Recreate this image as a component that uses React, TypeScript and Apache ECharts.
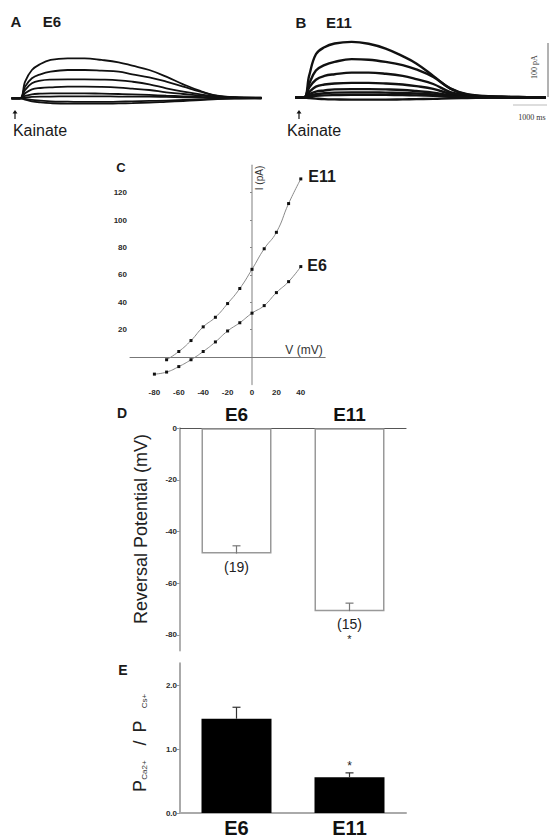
import React, { useEffect, useRef } from 'react';
import * as echarts from 'echarts';

const FONT = '"Liberation Sans", Arial, Helvetica, sans-serif';
const SERIF = '"Liberation Serif", "Times New Roman", serif';

// ---- Panels A/B: current traces (time in s after kainate, current in pA)
const traceTimes = [-0.25, 0, 0.15, 0.35, 0.6, 0.9, 1.4, 1.9, 2.4, 2.9, 3.3, 3.8, 4.3, 4.8, 5.3, 5.8, 6.3, 7.1];
const e6Traces = [
  [0, 0, 30.8, 52.4, 63.5, 71, 74, 74, 71, 66.6, 60.5, 52.4, 40.1, 25.9, 13.6, 4.9, 1.9, 1.2],
  [0, 0, 21.6, 37, 44.4, 49.4, 52.4, 52.4, 51.2, 49.4, 44.4, 38.9, 30.8, 21.6, 12.3, 4.3, 1.9, 1.2],
  [0, 0, 15.4, 27.8, 32.7, 34.6, 35.2, 35.2, 34.6, 33.3, 30.8, 25.9, 18.5, 12.3, 7.4, 3.1, 1.2, 0.6],
  [0, 0, 9.3, 16.7, 19.1, 20.4, 21.6, 21.6, 21, 19.7, 17.9, 15.4, 11.1, 8, 4.9, 2.5, 1.2, 0.6],
  [0, 0, 4.3, 7.4, 8.6, 9.3, 9.3, 9.3, 8.6, 8, 7.4, 6.2, 4.9, 3.7, 2.5, 1.2, 0.6, 0.6],
  [0, 0, 1.2, 2.5, 3.1, 3.1, 3.7, 3.7, 3.7, 3.1, 3.1, 3.1, 2.5, 1.9, 1.2, 0.6, 0.6, 0],
  [0, 0, -1.2, -3.1, -4.3, -5.6, -6.2, -6.8, -6.8, -6.2, -5.6, -4.9, -4.3, -3.1, -1.9, -0.6, 0, 0],
  [0, 0, -2.5, -5.5, -7.5, -9, -10, -10, -10, -9.5, -9, -8, -6.5, -5, -3.5, -1.5, -0.5, 0],
];
const e11Traces = [
  [0, 0, 40, 80, 93, 100, 103, 99.5, 90.5, 76.5, 63, 40, 16.5, 5, 2.5, 1.5, 1, 0],
  [0, 0, 25, 50, 60, 66, 71, 70, 66, 60, 52, 38, 17, 6, 3, 1.5, 1, 0],
  [0, 0, 18, 33, 40, 43, 46, 46, 44, 40, 34, 25, 10, 4, 2, 1, 0.5, 0],
  [0, 0, 10, 20, 24, 26, 27, 27, 26, 24, 21, 16, 7, 3, 1.5, 1, 0.5, 0],
  [0, 0, 6, 11, 13, 15, 15.5, 15.5, 15, 14, 12, 9, 4, 2, 1, 0.5, 0, 0],
  [0, 0, 3, 6, 8, 9, 9.5, 9.5, 9, 8.5, 7.5, 5.5, 2.5, 1, 0.5, 0, 0, 0],
  [0, 0, 1.5, 3, 4, 4.5, 5, 5, 4.8, 4.5, 4, 3, 1.5, 0.5, 0, 0, 0, 0],
  [0, 0, -1, -2, -3, -3.5, -4, -4, -4, -3.5, -3, -2.5, -1.5, -1, -0.5, 0, 0, 0],
];

// ---- Panel C: I-V relations
const ivE11Voltages = [-70, -60, -50, -40, -30, -20, -10, 0, 10, 20, 30, 40];
const ivE11Currents = [-2, 4, 12, 22, 29, 39, 50, 64, 79, 91, 112, 130];
const ivE6Voltages = [-80, -70, -60, -50, -40, -30, -20, -10, 0, 10, 20, 30, 40];
const ivE6Currents = [-12.5, -11, -7, -2, 4, 11, 19, 25, 32, 37.5, 47, 55, 66];
const ivXTicks = [-80, -60, -40, -20, 0, 20, 40];
const ivYTicks = [20, 40, 60, 80, 100, 120];

// ---- Panels D/E: bar charts
const groups = ['E6', 'E11'];
const reversalMeans = [-48.5, -70.8];
const reversalSem = [3.0, 3.1];
const reversalN = ['(19)', '(15)'];
const reversalSig = ['', '*'];
const revTicks = [-80, -60, -40, -20, 0];
const permRatio = [1.48, 0.56];
const permSem = [0.18, 0.07];
const permSig = ['', '*'];
const permTicks = [0, 1, 2];

function txt(text: string, x: number, y: number, size: number, opts: any = {}) {
  return {
    type: 'text',
    x,
    y,
    rotation: opts.rotation || 0,
    z: 50,
    style: {
      text,
      fill: opts.color || '#1a1a1a',
      font: `${opts.weight || 'normal'} ${size}px ${opts.family || FONT}`,
      align: 'center',
      verticalAlign: 'middle',
      textAlign: 'center',
      textVerticalAlign: 'middle',
    },
  };
}

function arrow(x: number, yTop: number, yBot: number) {
  return [
    { type: 'line', shape: { x1: x, y1: yBot, x2: x, y2: yTop + 2 }, style: { stroke: '#111', lineWidth: 1.2 } },
    { type: 'polygon', shape: { points: [[x - 2.5, yTop + 3.5], [x + 2.5, yTop + 3.5], [x, yTop]] }, style: { fill: '#111' } },
  ];
}

export default function App() {
  const ref = useRef<HTMLDivElement>(null);
  useEffect(() => {
    if (!ref.current) return;
    const chart = echarts.init(ref.current, undefined, { renderer: 'svg' });

    const traceSeries = (traces: number[][], idx: number, width: number) =>
      traces.map((vals) => ({
        type: 'line',
        xAxisIndex: idx,
        yAxisIndex: idx,
        data: traceTimes.map((t, i) => [t, vals[i]]),
        smooth: 0.4,
        symbol: 'none',
        silent: true,
        lineStyle: { color: '#111', width },
      }));

    const errRender = (means: number[], sems: number[], kind: 'D' | 'E') => (params: any, api: any) => {
      const i = params.dataIndex;
      const p0 = api.coord([i, means[i]]);
      const p1 = api.coord([i, means[i] + sems[i]]);
      const stroke = kind === 'D' ? '#777' : '#333';
      const children: any[] = [
        { type: 'line', shape: { x1: p0[0], y1: p0[1], x2: p1[0], y2: p1[1] }, style: { stroke, lineWidth: 1.2 } },
        { type: 'line', shape: { x1: p1[0] - 4, y1: p1[1], x2: p1[0] + 4, y2: p1[1] }, style: { stroke, lineWidth: 1.2 } },
      ];
      if (kind === 'D') {
        children.push({
          type: 'text', x: p0[0], y: p0[1] + 13,
          style: { text: reversalN[i], fill: '#222', font: `14px ${FONT}`, align: 'center', verticalAlign: 'middle' },
        });
        if (reversalSig[i]) {
          children.push({
            type: 'text', x: p0[0], y: p0[1] + 28,
            style: { text: reversalSig[i], fill: '#222', font: `11px ${FONT}`, align: 'center', verticalAlign: 'middle' },
          });
        }
      } else if (permSig[i]) {
        children.push({
          type: 'text', x: p1[0], y: p1[1] - 7,
          style: { text: permSig[i], fill: '#222', font: `12px ${FONT}`, align: 'center', verticalAlign: 'middle' },
        });
      }
      return { type: 'group', children };
    };

    const axisLbl = { fontSize: 8, fontWeight: 'bold', color: '#2a2a2a', fontFamily: FONT };

    const option: any = {
      animation: false,
      backgroundColor: '#ffffff',
      grid: [
        { left: 11.5, top: 44.3, width: 250, height: 64.8 },
        { left: 295.5, top: 32.7, width: 250, height: 75.6 },
        { left: 130, top: 165.2, width: 195.2, height: 219.2 },
        { left: 180, top: 428.3, width: 226, height: 222.1 },
        { left: 180, top: 663.3, width: 226, height: 153.4 },
      ],
      xAxis: [
        { gridIndex: 0, type: 'value', min: -0.25, max: 7.1, show: false },
        { gridIndex: 1, type: 'value', min: -0.25, max: 7.1, show: false },
        {
          gridIndex: 2, type: 'value', min: -100, max: 60, splitLine: { show: false },
          axisLine: { onZero: true, lineStyle: { color: '#777', width: 1 } },
          axisTick: { show: false },
          axisLabel: { ...axisLbl, margin: 4, customValues: ivXTicks },
        },
        {
          gridIndex: 3, type: 'category', data: groups, position: 'top',
          axisLine: { onZero: true, lineStyle: { color: '#555', width: 1.2 } },
          axisTick: { show: false },
          axisLabel: { fontSize: 19, fontWeight: 'bold', color: '#111', fontFamily: FONT, margin: 4 },
        },
        {
          gridIndex: 4, type: 'category', data: groups, position: 'bottom',
          axisLine: { lineStyle: { color: '#aaa', width: 2 } },
          axisTick: { show: false },
          axisLabel: { fontSize: 20, fontWeight: 'bold', color: '#111', fontFamily: FONT, margin: 5 },
        },
      ],
      yAxis: [
        { gridIndex: 0, type: 'value', min: -20, max: 100, show: false },
        { gridIndex: 1, type: 'value', min: -20, max: 120, show: false },
        {
          gridIndex: 2, type: 'value', min: -20, max: 140, splitLine: { show: false },
          axisLine: { onZero: true, lineStyle: { color: '#aaa', width: 1.5 } },
          axisTick: { show: true, length: 2, customValues: ivYTicks, lineStyle: { color: '#888' } },
          axisLabel: { ...axisLbl, margin: 3, customValues: ivYTicks },
        },
        {
          gridIndex: 3, type: 'value', min: -86, max: 0, splitLine: { show: false },
          axisLine: { show: true, onZero: false, lineStyle: { color: '#b0b0b0', width: 2 } },
          axisTick: { show: true, length: 3, customValues: revTicks, lineStyle: { color: '#999' } },
          axisLabel: { ...axisLbl, margin: 3, customValues: revTicks },
        },
        {
          gridIndex: 4, type: 'value', min: 0, max: 2.35, splitLine: { show: false },
          axisLine: { show: true, onZero: false, lineStyle: { color: '#aaa', width: 2 } },
          axisTick: { show: true, length: 3, customValues: permTicks, lineStyle: { color: '#999' } },
          axisLabel: { ...axisLbl, margin: 3, customValues: permTicks, formatter: (v: number) => v.toFixed(1) },
        },
      ],
      series: [
        ...traceSeries(e6Traces, 0, 1.8),
        ...traceSeries(e11Traces, 1, 2.4),
        {
          type: 'line', xAxisIndex: 2, yAxisIndex: 2, smooth: 0.5,
          data: ivE11Voltages.map((v, i) => [v, ivE11Currents[i]]),
          symbol: 'rect', symbolSize: 3, itemStyle: { color: '#111' },
          lineStyle: { color: '#8a8a8a', width: 1 },
        },
        {
          type: 'line', xAxisIndex: 2, yAxisIndex: 2, smooth: 0.5,
          data: ivE6Voltages.map((v, i) => [v, ivE6Currents[i]]),
          symbol: 'rect', symbolSize: 3, itemStyle: { color: '#111' },
          lineStyle: { color: '#8a8a8a', width: 1 },
        },
        {
          type: 'bar', xAxisIndex: 3, yAxisIndex: 3, barWidth: 70, data: reversalMeans,
          itemStyle: { color: '#ffffff', borderColor: '#999', borderWidth: 1.5 },
        },
        {
          type: 'custom', xAxisIndex: 3, yAxisIndex: 3, z: 10,
          encode: { x: 0, y: 1 },
          data: groups.map((g, i) => [i, reversalMeans[i]]),
          renderItem: errRender(reversalMeans, reversalSem, 'D'),
        },
        {
          type: 'bar', xAxisIndex: 4, yAxisIndex: 4, barWidth: 70, data: permRatio,
          itemStyle: { color: '#000000' },
        },
        {
          type: 'custom', xAxisIndex: 4, yAxisIndex: 4, z: 10,
          encode: { x: 0, y: 1 },
          data: groups.map((g, i) => [i, permRatio[i]]),
          renderItem: errRender(permRatio, permSem, 'E'),
        },
      ],
      graphic: [
        // Panel A
        txt('A', 16, 21, 15, { weight: 'bold' }),
        txt('E6', 52, 21, 15, { weight: 'bold' }),
        ...arrow(15, 110, 119),
        txt('Kainate', 40, 130, 16),
        // Panel B
        txt('B', 301, 22, 15, { weight: 'bold' }),
        txt('E11', 339, 22, 15, { weight: 'bold' }),
        ...arrow(299, 110, 119),
        txt('Kainate', 314, 130, 16),
        { type: 'line', shape: { x1: 548, y1: 43, x2: 548, y2: 97 }, style: { stroke: '#666', lineWidth: 1 } },
        txt('100 pA', 534, 67, 8, { family: SERIF, rotation: Math.PI / 2, color: '#333' }),
        { type: 'line', shape: { x1: 513, y1: 105, x2: 547, y2: 105 }, style: { stroke: '#bbb', lineWidth: 1 } },
        txt('1000 ms', 532, 117, 8, { family: SERIF, color: '#333' }),
        // Panel C
        txt('C', 121, 167, 13, { weight: 'bold' }),
        txt('I (pA)', 259, 178, 10, { rotation: Math.PI / 2, color: '#333' }),
        txt('V (mV)', 304, 350, 12, { color: '#333' }),
        txt('E11', 322, 176, 16, { weight: 'bold' }),
        txt('E6', 317, 265, 16, { weight: 'bold' }),
        // Panel D
        txt('D', 122, 413, 14, { weight: 'bold' }),
        txt('Reversal Potential (mV)', 141, 529, 18, { rotation: Math.PI / 2, color: '#222' }),
        // Panel E
        txt('E', 123, 670, 14, { weight: 'bold' }),
        txt('P', 140, 786, 18, { rotation: Math.PI / 2, color: '#222' }),
        txt('Ca2+', 144, 770, 8, { rotation: Math.PI / 2, color: '#333' }),
        txt('/', 140, 743, 18, { rotation: Math.PI / 2, color: '#222' }),
        txt('P', 140, 726.5, 18, { rotation: Math.PI / 2, color: '#222' }),
        txt('Cs+', 144, 701, 8, { rotation: Math.PI / 2, color: '#333' }),
      ],
    };

    chart.setOption(option);
    return () => chart.dispose();
  }, []);

  return (
    <div
      ref={ref}
      style={{ position: 'fixed', left: 0, top: 0, width: 549, height: 838, background: '#fff' }}
    />
  );
}
